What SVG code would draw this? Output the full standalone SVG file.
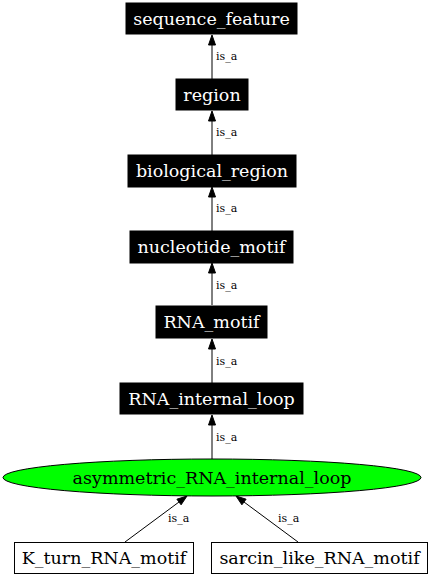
<svg xmlns="http://www.w3.org/2000/svg" width="431" height="576" viewBox="0 0 431 576">
<style>
.bn rect{fill:#000;stroke:#000}
.bn text{fill:#fff;font-family:"DejaVu Serif",serif;font-size:17.5px;text-anchor:middle}
.wn rect{fill:#fff;stroke:#000}
.wn text{fill:#000;font-family:"DejaVu Serif",serif;font-size:17.5px;text-anchor:middle}
.el text{fill:#000;font-family:"DejaVu Serif",serif;font-size:17.5px;text-anchor:middle}
.edges line{stroke:#000;stroke-width:1}
.edges path{fill:#000;stroke:#000}
.lbl{font-family:"DejaVu Serif",serif;font-size:11px;fill:#000}
</style>
<rect width="431" height="576" fill="#fff"/>
<g class="edges" id="edges">
<line x1="212" y1="79" x2="212" y2="45"/><path d="M212,35 L215.5,45 L208.5,45 Z"/><text class="lbl" x="216" y="60">is_a</text>
<line x1="212" y1="155" x2="212" y2="121"/><path d="M212,111 L215.5,121 L208.5,121 Z"/><text class="lbl" x="216" y="136">is_a</text>
<line x1="212" y1="231" x2="212" y2="197"/><path d="M212,187 L215.5,197 L208.5,197 Z"/><text class="lbl" x="216" y="212">is_a</text>
<line x1="212" y1="305" x2="212" y2="273"/><path d="M212,263 L215.5,273 L208.5,273 Z"/><text class="lbl" x="216" y="289">is_a</text>
<line x1="212" y1="383" x2="212" y2="349"/><path d="M212,339 L215.5,349 L208.5,349 Z"/><text class="lbl" x="216" y="365">is_a</text>
<line x1="212" y1="459" x2="212" y2="425"/><path d="M212,415 L215.5,425 L208.5,425 Z"/><text class="lbl" x="216" y="441">is_a</text>
<line x1="125" y1="542" x2="179" y2="502"/><path d="M187,496 L181.1,504.8 L176.9,499.2 Z"/><text class="lbl" x="168" y="522">is_a</text>
<line x1="298" y1="542" x2="244" y2="502"/><path d="M236,496 L246.1,499.2 L241.9,504.8 Z"/><text class="lbl" x="278" y="522">is_a</text>
</g>
<g id="sequence_feature" class="bn"><rect x="126" y="3" width="171" height="31"/><text x="211.5" y="24.5">sequence_feature</text></g>
<g id="region" class="bn"><rect x="176" y="79" width="72" height="31"/><text x="212" y="100.5">region</text></g>
<g id="biological_region" class="bn"><rect x="128" y="155" width="168" height="32"/><text x="212" y="176.5">biological_region</text></g>
<g id="nucleotide_motif" class="bn"><rect x="130" y="231" width="163" height="32"/><text x="211.5" y="252.5">nucleotide_motif</text></g>
<g id="RNA_motif" class="bn"><rect x="156" y="306" width="111" height="32"/><text x="211.5" y="328">RNA_motif</text></g>
<g id="RNA_internal_loop" class="bn"><rect x="120" y="383" width="183" height="31"/><text x="211.5" y="404.5">RNA_internal_loop</text></g>
<g id="asymmetric_RNA_internal_loop" class="el"><ellipse cx="212" cy="477.5" rx="209" ry="18.5" fill="#00ff00" stroke="#000"/><text x="212" y="483.5">asymmetric_RNA_internal_loop</text></g>
<g id="K_turn_RNA_motif" class="wn"><rect x="14.5" y="542.5" width="179" height="31"/><text x="104" y="564">K_turn_RNA_motif</text></g>
<g id="sarcin_like_RNA_motif" class="wn"><rect x="211.5" y="542.5" width="216" height="31"/><text x="319.5" y="564">sarcin_like_RNA_motif</text></g>
</svg>
